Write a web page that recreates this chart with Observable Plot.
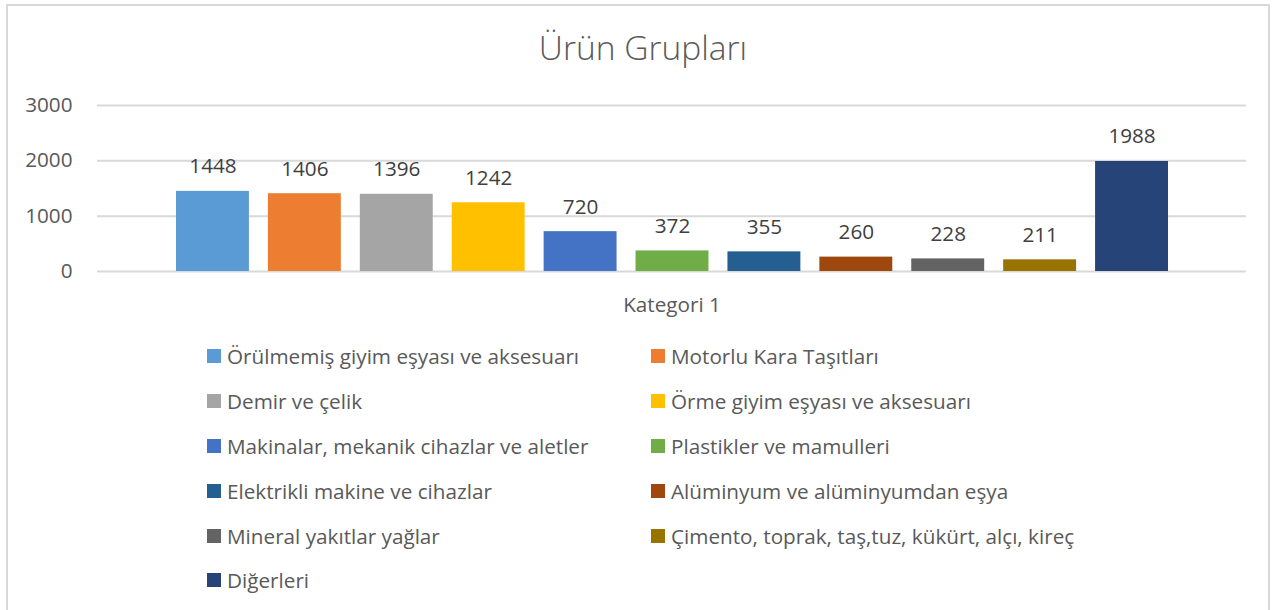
<!DOCTYPE html>
<html>
<head>
<meta charset="utf-8">
<script src="https://cdn.jsdelivr.net/npm/d3@7"></script>
<script src="https://cdn.jsdelivr.net/npm/@observablehq/plot@0.6"></script>
<style>
  body { margin: 0; background: #fff; font-family: "Open Sans", sans-serif; }
  #wrap { position: relative; width: 1276px; height: 610px; overflow: hidden; background: #fff; }
  #frame { position: absolute; left: 6px; top: 4px; width: 1264px; height: 640px; border: 2px solid #d9d9d9; box-sizing: border-box; }
  #title { position: absolute; left: 0; width: 1286px; top: 24px; text-align: center; font-size: 33.5px; font-weight: 300; color: #595959; }
  #chart { position: absolute; left: 0; top: 80px; }
  #legend { position: absolute; left: 0; top: 0; width: 1276px; height: 610px; }
  .item { position: absolute; display: flex; align-items: center; font-size: 20.7px; color: #595959; white-space: nowrap; height: 30px; }
  .sw { width: 14px; height: 14px; margin-right: 6px; }
</style>
</head>
<body>
<div id="wrap">
  <div id="frame"></div>
  <div id="title">Ürün Grupları</div>
  <div id="chart"></div>
  <div id="legend"></div>
</div>
<script>
const series = [
  "Örülmemiş giyim eşyası ve aksesuarı",
  "Motorlu Kara Taşıtları",
  "Demir ve çelik",
  "Örme giyim eşyası ve aksesuarı",
  "Makinalar, mekanik cihazlar ve aletler",
  "Plastikler ve mamulleri",
  "Elektrikli makine ve cihazlar",
  "Alüminyum ve alüminyumdan eşya",
  "Mineral yakıtlar yağlar",
  "Çimento, toprak, taş,tuz, kükürt, alçı, kireç",
  "Diğerleri"
];
const values = [1448, 1406, 1396, 1242, 720, 372, 355, 260, 228, 211, 1988];
const colors = ["#5B9BD5", "#ED7D31", "#A5A5A5", "#FFC000", "#4472C4", "#70AD47", "#255E91", "#9E480E", "#636363", "#997300", "#264478"];
const yTicks = [0, 1000, 2000, 3000];
const category = "Kategori 1";

const data = series.map((s, i) => ({series: s, value: values[i]}));

const chart = Plot.plot({
  width: 1276,
  height: 240,
  marginLeft: 97,
  marginRight: 30,
  marginTop: 25,
  marginBottom: 49,
  style: {fontFamily: "Open Sans, sans-serif", fontSize: "20.7px", color: "#595959", background: "transparent"},
  x: {domain: series, range: [166.5, 1177.5], paddingInner: 0.2065, paddingOuter: 0.1033, round: false, axis: null},
  y: {domain: [0, 3000], ticks: yTicks, tickSize: 0, tickPadding: 25, label: null},
  color: {domain: series, range: colors},
  marks: [
    Plot.ruleY(yTicks, {stroke: "#d9d9d9", strokeWidth: 2}),
    Plot.barY(data, {x: "series", y: "value", fill: "series"}),
    Plot.text(data, {x: "series", y: "value", text: d => String(d.value), lineAnchor: "bottom", dy: -18, fill: "#404040", fontSize: 20.7}),
    Plot.text([category], {frameAnchor: "bottom", dy: 40, text: d => d, fill: "#595959", fontSize: 20.7}),
    Plot.axisY({ticks: yTicks, tickSize: 0, tickPadding: 25, tickFormat: d3.format("d"), fontSize: 20.7, fill: "#595959", label: null})
  ]
});
document.getElementById("chart").appendChild(chart);

const legend = document.getElementById("legend");
const colX = [207, 651];
const rowY = [356, 401, 446, 491, 536, 580];
series.forEach((s, i) => {
  const el = document.createElement("div");
  el.className = "item";
  el.style.left = colX[i % 2] + "px";
  el.style.top = (rowY[Math.floor(i / 2)] - 15) + "px";
  const sw = document.createElement("div");
  sw.className = "sw";
  sw.style.background = colors[i];
  const t = document.createElement("span");
  t.textContent = s;
  el.appendChild(sw);
  el.appendChild(t);
  legend.appendChild(el);
});
</script>
</body>
</html>
